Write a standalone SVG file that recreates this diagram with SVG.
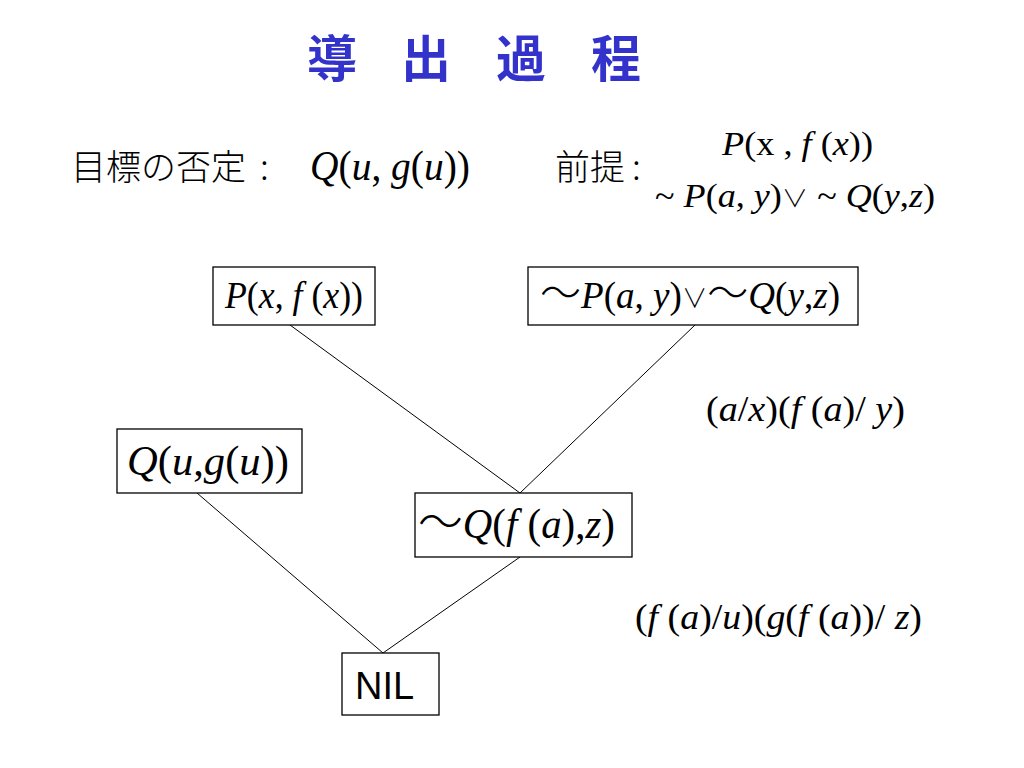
<svg xmlns="http://www.w3.org/2000/svg" width="1024" height="768" viewBox="0 0 1024 768">
<style>
.m{font-family:"Liberation Serif","Times New Roman",serif;fill:#000}
.i{font-style:italic}
.v{font-family:"Noto Sans CJK JP",sans-serif;font-style:normal;font-weight:300}
.w{font-family:"Noto Sans CJK JP",sans-serif;font-style:normal;font-weight:300}
.j{font-family:"Noto Sans CJK JP",sans-serif;fill:#000;font-weight:300}
.box{fill:#fff;stroke:#000;stroke-width:1.3}
.ln{stroke:#000;stroke-width:1;fill:none}
.t{font-family:"Noto Sans CJK JP","Liberation Sans",sans-serif;font-weight:bold;fill:#3333cc;font-size:50px}
</style>
<rect width="1024" height="768" fill="#fff"/>
<g id="title">
<text class="t" x="307" y="77">導</text>
<text class="t" x="401" y="77">出</text>
<text class="t" x="496" y="77">過</text>
<text class="t" x="591" y="77">程</text>
</g>
<g id="goal">
<text class="j" x="71" y="180" font-size="35">目標の否定</text>
<text class="j" x="260" y="180" font-size="35">:</text>
<text class="m" x="310" y="180" font-size="42" textLength="160" lengthAdjust="spacingAndGlyphs"><tspan class="i">Q</tspan>(<tspan class="i">u</tspan>, <tspan class="i">g</tspan>(<tspan class="i">u</tspan>))</text>
</g>
<g id="premise">
<text class="j" x="555" y="180" font-size="35">前提</text>
<text class="j" x="632" y="180" font-size="35">:</text>
<text class="m" x="722" y="155" font-size="33" textLength="151" lengthAdjust="spacingAndGlyphs"><tspan class="i">P</tspan>(x , <tspan class="i">f</tspan> (<tspan class="i">x</tspan>))</text>
<text class="m" x="655" y="207" font-size="33" textLength="280" lengthAdjust="spacingAndGlyphs">~ <tspan class="i">P</tspan>(<tspan class="i">a</tspan>, <tspan class="i">y</tspan>)<tspan class="v" font-size="24">∨</tspan> ~ <tspan class="i">Q</tspan>(<tspan class="i">y</tspan>,<tspan class="i">z</tspan>)</text>
</g>
<g id="connectors">
<line class="ln" x1="290" y1="325" x2="520" y2="493"/>
<line class="ln" x1="695" y1="325" x2="520" y2="493"/>
<line class="ln" x1="197" y1="493" x2="383" y2="653"/>
<line class="ln" x1="520" y1="557" x2="383" y2="653"/>
</g>
<g id="n1">
<rect class="box" x="213" y="267" width="162" height="58"/>
<text class="m" x="225" y="308" font-size="38" textLength="138" lengthAdjust="spacingAndGlyphs"><tspan class="i">P</tspan>(<tspan class="i">x</tspan>, <tspan class="i">f</tspan> (<tspan class="i">x</tspan>))</text>
</g>
<g id="n2">
<rect class="box" x="528" y="267" width="330" height="58"/>
<text class="m" x="540" y="308" font-size="38" textLength="300" lengthAdjust="spacingAndGlyphs"><tspan class="w" font-size="42">～</tspan><tspan class="i">P</tspan>(<tspan class="i">a</tspan>, <tspan class="i">y</tspan>)<tspan class="v" font-size="26">∨</tspan><tspan class="w" font-size="42">～</tspan><tspan class="i">Q</tspan>(<tspan class="i">y</tspan>,<tspan class="i">z</tspan>)</text>
</g>
<g id="n3">
<rect class="box" x="117" y="429" width="185" height="64"/>
<text class="m" x="127" y="475" font-size="42" textLength="162" lengthAdjust="spacingAndGlyphs"><tspan class="i">Q</tspan>(<tspan class="i">u</tspan>,<tspan class="i">g</tspan>(<tspan class="i">u</tspan>))</text>
</g>
<g id="n4">
<rect class="box" x="415" y="493" width="217" height="64"/>
<text class="m" x="418" y="538" font-size="42" textLength="197" lengthAdjust="spacingAndGlyphs"><tspan class="w" font-size="46">～</tspan><tspan class="i">Q</tspan>(<tspan class="i">f</tspan> (<tspan class="i">a</tspan>),<tspan class="i">z</tspan>)</text>
</g>
<g id="n5">
<rect class="box" x="342" y="653" width="97" height="62"/>
<text x="355" y="699" font-family="Liberation Sans,Arial,sans-serif" font-size="38">NIL</text>
</g>
<g id="labels">
<text class="m" x="706" y="421" font-size="36" textLength="199" lengthAdjust="spacingAndGlyphs">(<tspan class="i">a</tspan>/<tspan class="i">x</tspan>)(<tspan class="i">f</tspan> (<tspan class="i">a</tspan>)/ <tspan class="i">y</tspan>)</text>
<text class="m" x="635" y="629" font-size="36" textLength="287" lengthAdjust="spacingAndGlyphs">(<tspan class="i">f</tspan> (<tspan class="i">a</tspan>)/<tspan class="i">u</tspan>)(<tspan class="i">g</tspan>(<tspan class="i">f</tspan> (<tspan class="i">a</tspan>))/ <tspan class="i">z</tspan>)</text>
</g>
</svg>
